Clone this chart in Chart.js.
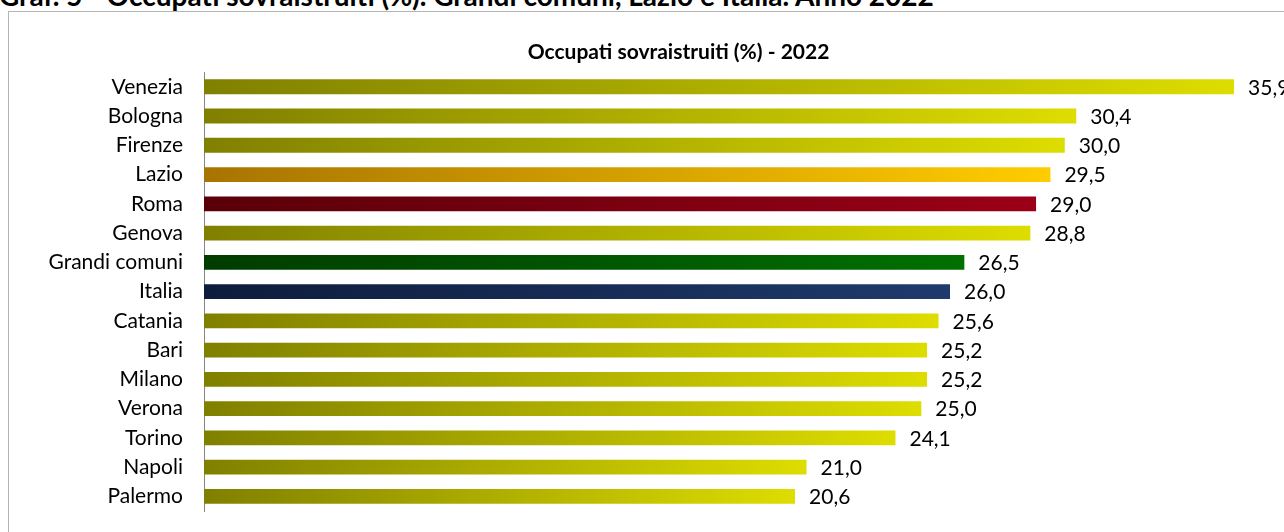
<!DOCTYPE html>
<html>
<head>
<meta charset="utf-8">
<script src="https://cdn.jsdelivr.net/npm/chart.js@4.4.1/dist/chart.umd.min.js"></script>
<style>
  html, body { margin: 0; padding: 0; background: #fff; overflow: hidden; width: 1284px; height: 532px; }
  #heading {
    position: absolute; left: -1px; top: -19px; white-space: nowrap;
    font-family: Lato, "Open Sans", sans-serif; font-weight: bold; font-size: 28px; line-height: 28px; color: #000;
  }
  #frame {
    position: absolute; left: 8px; top: 11px; width: 1400px; height: 600px;
    border: 1px solid #b4b4b4;
  }
  #chart { position: absolute; left: 0; top: 0; }
</style>
</head>
<body>
<div id="heading">Graf. 5 - Occupati sovraistruiti (%). Grandi comuni, Lazio e Italia. Anno 2022</div>
<div id="frame"></div>
<canvas id="chart" width="1323" height="532"></canvas>
<script>
var categories = ['Venezia', 'Bologna', 'Firenze', 'Lazio', 'Roma', 'Genova', 'Grandi comuni', 'Italia',
    'Catania', 'Bari', 'Milano', 'Verona', 'Torino', 'Napoli', 'Palermo'];
var values = [35.9, 30.4, 30.0, 29.5, 29.0, 28.8, 26.5, 26.0, 25.6, 25.2, 25.2, 25.0, 24.1, 21.0, 20.6];

// gradient colours (left -> right) per category
var olive = ['#808000', '#dddd00'];
var special = {
    'Lazio': ['#a87400', '#ffcc00'],
    'Roma': ['#5a0008', '#9b0018'],
    'Grandi comuni': ['#003c00', '#007000'],
    'Italia': ['#0e1c3c', '#1f3a6c']
};

function barColor(ctx) {
    var chart = ctx.chart;
    var pair = special[categories[ctx.dataIndex]] || olive;
    if (!chart.chartArea || !chart.scales.x) return pair[1];
    var x0 = chart.scales.x.getPixelForValue(0);
    var x1 = chart.scales.x.getPixelForValue(values[ctx.dataIndex]);
    var g = chart.ctx.createLinearGradient(x0, 0, x1, 0);
    g.addColorStop(0, pair[0]);
    g.addColorStop(1, pair[1]);
    return g;
}

var valueLabels = {
    id: 'valueLabels',
    afterDatasetsDraw: function (chart) {
        var c = chart.ctx;
        var meta = chart.getDatasetMeta(0);
        c.save();
        c.font = '21px Lato, "Open Sans", sans-serif';
        c.fillStyle = '#000';
        c.textAlign = 'left';
        c.textBaseline = 'middle';
        meta.data.forEach(function (bar, i) {
            c.fillText(values[i].toFixed(1).replace('.', ','), bar.x + 14, bar.y + 1);
        });
        c.restore();
    }
};

var ctx = document.getElementById('chart');
var myChart = new Chart(ctx, {
    type: 'bar',
    data: {
        labels: categories,
        datasets: [{
            data: values,
            backgroundColor: barColor,
            borderWidth: 0,
            barPercentage: 0.51,
            categoryPercentage: 1
        }]
    },
    options: {
        indexAxis: 'y',
        responsive: false,
        animation: false,
        devicePixelRatio: 1,
        layout: { padding: { left: 34, right: 0, top: 40, bottom: 21 } },
        plugins: {
            legend: { display: false },
            tooltip: { enabled: false },
            title: {
                display: true,
                text: 'Occupati sovraistruiti (%) - 2022',
                color: '#000',
                font: { family: 'Lato, "Open Sans", sans-serif', size: 21, weight: 'bold', lineHeight: 1.2 },
                padding: { top: 0, bottom: 7 }
            }
        },
        scales: {
            x: { display: false, min: 0, max: 39 },
            y: {
                grid: { display: false, drawTicks: false },
                border: { display: true, color: '#868686', width: 1 },
                ticks: {
                    color: '#000',
                    padding: 21,
                    font: { family: 'Lato, "Open Sans", sans-serif', size: 21 }
                },
                afterFit: function (scale) {
                    scale.width = 170;
                    scale.paddingTop = 0;
                    scale.paddingBottom = 0;
                }
            }
        }
    },
    plugins: [valueLabels]
});
</script>
</body>
</html>
